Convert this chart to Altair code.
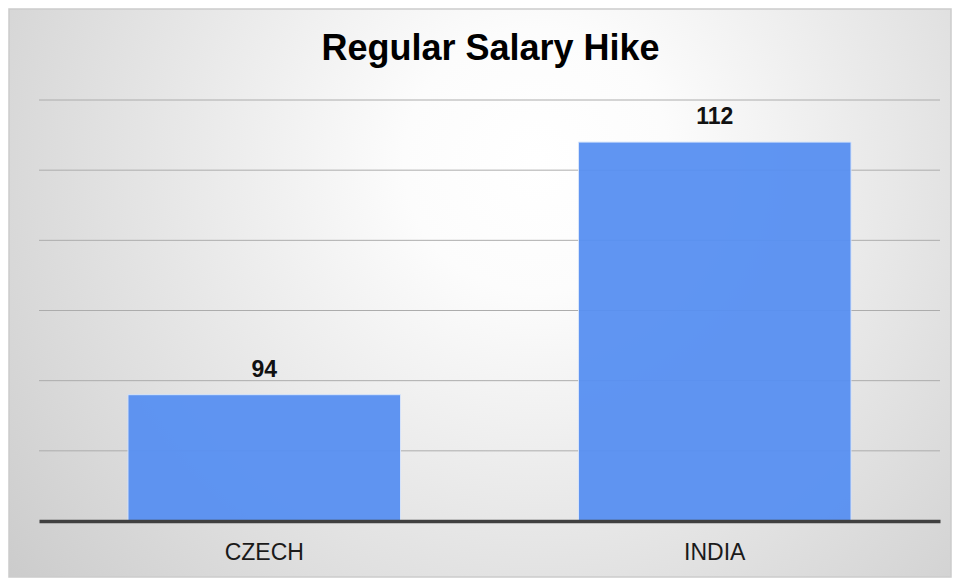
import altair as alt
import pandas as pd

categories = ["CZECH", "INDIA"]
values = [94, 112]
y_min, y_max = 85, 115
grid_values = [90, 95, 100, 105, 110, 115]
title_text = "Regular Salary Hike"

df = pd.DataFrame({"country": categories, "hike": values, "base": [y_min] * len(values)})
grid_df = pd.DataFrame({"g": grid_values})

W, H = 901, 421
PAD = {"left": 31, "top": 92, "right": 12, "bottom": 57}
FONT = "Liberation Sans"

bg = alt.Chart(alt.Data(values=[{}])).mark_rect(
    fill={
        "gradient": "radial",
        "x1": 0.56, "y1": 0.36, "r1": 0,
        "x2": 0.56, "y2": 0.36, "r2": 0.78,
        "stops": [
            {"offset": 0, "color": "#ffffff"},
            {"offset": 0.18, "color": "#fcfcfc"},
            {"offset": 1, "color": "#c6c6c6"},
        ],
    },
    stroke="#cbcbcb",
    strokeWidth=1.5,
).encode(
    x=alt.value(-PAD["left"] + 1),
    x2=alt.value(W + PAD["right"] - 1),
    y=alt.value(-PAD["top"] + 1),
    y2=alt.value(H + PAD["bottom"] - 1),
)

yscale = alt.Scale(domain=[y_min, y_max], zero=False, nice=False)

grid = alt.Chart(grid_df).mark_rule(color="#acacac", strokeWidth=1).encode(
    y=alt.Y("g:Q", scale=yscale, axis=None),
)

xenc = alt.X(
    "country:N",
    sort=categories,
    scale=alt.Scale(paddingInner=0.395, paddingOuter=0.1975),
    axis=alt.Axis(
        title=None, labelAngle=0, ticks=False, tickSize=0, grid=False,
        domainColor="#404040", domainWidth=3.5, zindex=1,
        labelFont=FONT, labelFontSize=23, labelColor="#1a1a1a",
        labelBaseline="alphabetic", labelPadding=38,
    ),
)

bars = alt.Chart(df).mark_bar(
    color="#5890f2", opacity=0.95, stroke="#d6e4fb", strokeWidth=1
).encode(
    x=xenc,
    y=alt.Y("hike:Q", scale=yscale, axis=None),
    y2="base:Q",
)

labels = alt.Chart(df).mark_text(
    font=FONT, fontSize=23, fontWeight="bold", color="#111111",
    baseline="alphabetic", dy=-18,
).encode(
    x=alt.X("country:N", sort=categories),
    y=alt.Y("hike:Q", scale=yscale),
    text="hike:Q",
)

title = alt.Chart(alt.Data(values=[{}])).mark_text(
    text=title_text, font=FONT, fontSize=36, fontWeight="bold", color="#000000",
    align="center", baseline="alphabetic",
).encode(
    x=alt.value(W / 2 + 1),
    y=alt.value(60 - 8 - PAD["top"]),
)

chart = alt.layer(bg, grid, bars, labels, title).properties(
    width=W,
    height=H,
    padding=PAD,
    autosize=alt.AutoSizeParams(type="none"),
).configure_view(stroke=None).configure(background="#ffffff")

chart.save("out.html", embed_options={"renderer": "svg", "actions": False})
